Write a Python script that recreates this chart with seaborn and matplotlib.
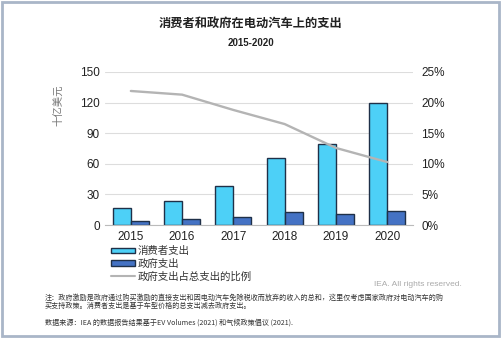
import numpy as np
import pandas as pd
import seaborn as sns
import matplotlib.pyplot as plt
from matplotlib.patches import Patch, Rectangle
from matplotlib.lines import Line2D

# data
years = ["2015", "2016", "2017", "2018", "2019", "2020"]
consumer = [17, 24, 38, 66, 79, 120]       # 十亿美元
government = [4.5, 6, 8, 12.5, 10.5, 13.5]  # 十亿美元
gov_share = [21.9, 21.3, 18.8, 16.5, 12.6, 10.3]  # %

lab_cons = "消费者支出"
lab_gov = "政府支出"
lab_share = "政府支出占总支出的比例"

sns.set_theme(style="white")
plt.rcParams['font.family'] = ['Liberation Sans', 'Noto Sans CJK SC', 'DejaVu Sans']

df = pd.DataFrame({"year": years * 2,
                   "value": consumer + government,
                   "series": [lab_cons] * 6 + [lab_gov] * 6})

c_cons = "#4DD0F7"
c_gov = "#4472C4"
c_edge = "#1F3048"
c_line = "#B4B4B4"

fig = plt.figure(figsize=(5.01, 3.38), dpi=100)
ax = fig.add_axes([0.21, 0.334, 0.614, 0.453])

sns.barplot(data=df, x="year", y="value", hue="series", ax=ax,
            palette=[c_cons, c_gov], saturation=1, width=0.7, gap=0,
            edgecolor=c_edge, linewidth=1.0, legend=False)
ax.set_ylim(0, 150)
ax.set_yticks(np.arange(0, 151, 30))
ax.set_xlabel("")
ax.set_ylabel("")
ax.tick_params(axis="both", labelsize=8.5, colors="#222222", length=0, pad=4)
ax.grid(axis="y", color="#DDDDDD", linewidth=0.8)
ax.set_axisbelow(True)
for s in ["top", "right", "left"]:
    ax.spines[s].set_visible(False)
ax.spines["bottom"].set_color("#BBBBBB")
ax.spines["bottom"].set_linewidth(0.8)

ax2 = ax.twinx()
sns.lineplot(x=np.arange(len(years)), y=gov_share, ax=ax2,
             color=c_line, linewidth=1.7)
ax2.set_ylim(0, 25)
ax2.set_yticks(np.arange(0, 26, 5))
ax2.set_yticklabels([f"{v}%" for v in range(0, 26, 5)])
ax2.tick_params(axis="y", labelsize=8.5, colors="#222222", length=0, pad=6)
for s in ax2.spines.values():
    s.set_visible(False)
ax.set_xlim(-0.5, len(years) - 0.5)

# titles
fig.text(0.5, 1 - 23 / 338, "消费者和政府在电动汽车上的支出", ha="center", va="center",
         fontsize=8.8, fontweight="bold", family=['Noto Sans CJK SC'], color="#222222")
fig.text(0.5, 1 - 43 / 338, "2015-2020", ha="center", va="center",
         fontsize=7, fontweight="bold", color="#222222")
fig.text(58 / 501, 1 - 105 / 338, "十亿美元", rotation=90, ha="center", va="center",
         fontsize=7.5, color="#777777", family=['Noto Sans CJK SC'])

# legend
handles = [Patch(facecolor=c_cons, edgecolor=c_edge, linewidth=1.0),
           Patch(facecolor=c_gov, edgecolor=c_edge, linewidth=1.0),
           Line2D([], [], color=c_line, linewidth=1.5)]
fig.legend(handles, [lab_cons, lab_gov, lab_share], loc="upper left",
           bbox_to_anchor=(106 / 501, 1 - 241 / 338), frameon=False,
           handlelength=2.3, handleheight=0.5, handletextpad=0.2,
           labelspacing=0.25, borderpad=0,
           prop={'family': ['Noto Sans CJK SC'], 'size': 7.5}, labelcolor="#333333")

fig.text(462 / 501, 1 - 285 / 338, "IEA. All rights reserved.", ha="right", va="center",
         fontsize=6, color="#AAAAAA")
fig.text(45 / 501, 1 - 302 / 338,
         "注：政府激励是政府通过购买激励的直接支出和因电动汽车免除税收而放弃的收入的总和，这里仅考虑国家政府对电动汽车的购\n"
         "买支持政策。消费者支出是基于车型价格的总支出减去政府支出。",
         ha="left", va="center", fontsize=5.1, color="#333333", linespacing=1.0,
         family=['Noto Sans CJK SC'])
fig.text(45 / 501, 1 - 323 / 338,
         "数据来源：IEA 的数据报告结果基于EV Volumes (2021) 和气候政策倡议 (2021).",
         ha="left", va="center", fontsize=5.1, color="#333333",
         family=['Noto Sans CJK SC'])

# frame around the picture
fig.patches.append(Rectangle((0.004, 0.006), 0.992, 0.988, transform=fig.transFigure,
                             fill=False, edgecolor="#A9B6C8", linewidth=2))

fig.savefig("out.png", dpi=100)
